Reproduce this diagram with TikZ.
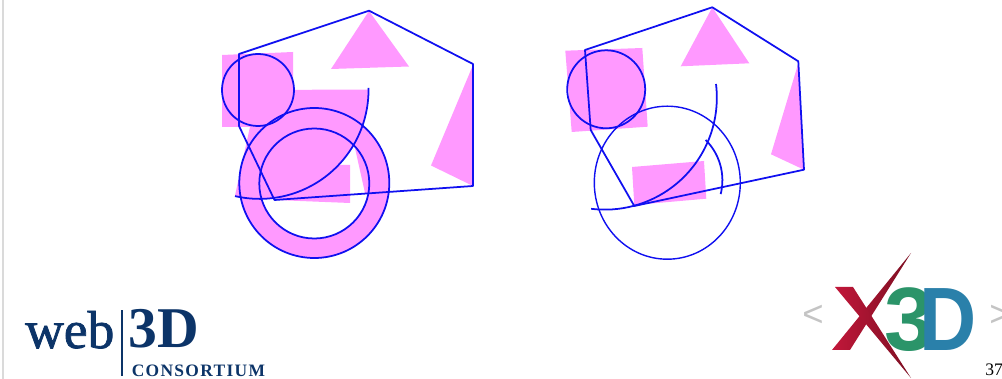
\documentclass[tikz,border=0pt]{standalone}
\usepackage{fontspec}
\setmainfont{Liberation Serif}
\newfontfamily\spacedfont[LetterSpace=7.5]{Liberation Serif}
\newfontfamily\webfont[FakeBold=1.4]{Liberation Serif}
\newfontfamily\logofont{Liberation Sans}
\definecolor{stroke}{HTML}{1010F0}
\definecolor{patch}{HTML}{FF99FF}
\definecolor{navy}{HTML}{0C3468}
\definecolor{edge}{HTML}{DADADA}
\definecolor{crimson}{HTML}{C2173A}
\definecolor{wine}{HTML}{7C0F22}
\definecolor{jade}{HTML}{2B9469}
\definecolor{ocean}{HTML}{2A80AA}
\definecolor{chevron}{HTML}{C4C4C4}
\begin{document}
\begin{tikzpicture}[
  x=0.025cm,y=-0.025cm,
  outline/.style={draw=stroke,line width=1.25pt,line join=round},
  fineline/.style={draw=stroke,line width=1pt,line join=round},
  patched/.style={fill=patch,draw=none},
  logotext/.style={inner sep=0pt,anchor=base west,text=navy},
  mark3d/.style={inner sep=0pt,anchor=base west,font=\logofont\bfseries\fontsize{64}{64}\selectfont},
  blade/.style={left color=crimson,right color=wine,draw=none}
]
\useasboundingbox (0,0) rectangle (1002,379);
\fill[edge] (2,0) rectangle (4,379);
% left figure
\fill[patched] (222,55) -- (293,52) -- (293,127) -- (222,127) -- cycle;
\fill[patched] (369,11) -- (409,66.5) -- (331,69) -- cycle;
\fill[patched] (473,65) -- (473,186) -- (431,165.5) -- cycle;
\fill[patched,even odd rule] (314.3,183) circle[radius=75] (314.3,183.5) circle[radius=55];
\fill[patched] (258,90) -- (368.5,89.5) arc[start angle=0,end angle=103,radius=109] -- cycle;
\fill[patched] (335,165) -- (350,165) -- (350,203) -- (275,200) -- cycle;
\begin{scope}
  \clip (354.3,145) -- (365,193) -- (375,192) -- (375,130) -- cycle;
  \fill[patched] (314.3,183.5) circle[radius=55];
\end{scope}
\draw[outline] (239,54) -- (369,10.7) -- (473,64) -- (473,186) -- (274.5,200) -- (239,126) -- cycle;
\draw[outline] (258,90) circle[radius=36];
\draw[outline] (314.3,183) circle[radius=75];
\draw[outline] (314.3,183.5) circle[radius=55];
\draw[outline] (368.5,88) arc[start angle=-1,end angle=103,radius=109];
% right figure
\fill[patched] (565.3,50.7) -- (642.3,48) -- (647.7,126.7) -- (571.7,132) -- cycle;
\fill[patched] (712.3,7.3) -- (749.3,63.3) -- (680.7,66.3) -- cycle;
\fill[patched] (798.3,63.3) -- (804,169.7) -- (771,154.3) -- cycle;
\fill[patched] (632,167) -- (704,161) -- (706.3,198.7) -- (634.3,205) -- cycle;
\draw[outline] (585,50) -- (712.3,7.3) -- (798.3,61.3) -- (804,169.7) -- (634.3,206) -- (590.7,130) -- cycle;
\draw[outline] (606.2,89.3) circle[radius=39];
\draw[fineline] (667.3,182.7) ellipse[x radius=73,y radius=76.5];
\draw[outline] (716,84) arc[start angle=-7,end angle=97,radius=112];
\draw[outline] (705.7,140) arc[start angle=-45,end angle=14,radius=57];
% consortium logo
\node[logotext,font=\webfont\fontsize{38}{38}\selectfont] (web) at (25,348) {web};
\node[logotext,font=\bfseries\fontsize{41}{41}\selectfont] (three) at (128,348) {3D};
\node[logotext,font=\spacedfont\bfseries\fontsize{12.4}{13}\selectfont] (consortium) at (131.5,377) {CONSORTIUM};
\fill[navy] (121,310) rectangle (122.5,376);
% x3d logo
\node[inner sep=0pt,text=chevron,font=\logofont\fontsize{26}{26}\selectfont] (less) at (813,316) {<};
\node[inner sep=0pt,text=chevron,font=\logofont\fontsize{26}{26}\selectfont] (more) at (1000,316) {>};
\shade[blade] (832,350) -- (850,350) -- (911,253) -- cycle;
\shade[blade] (835,287) -- (853,287) -- (911,378) -- cycle;
\node[mark3d,text=jade] (mark3) at (884,351) {3};
\node[mark3d,text=ocean,xscale=0.88] (markD) at (919,351) {D};
\node[inner sep=0pt,anchor=base west,font=\fontsize{12.5}{13}\selectfont] (page) at (985,376) {37};
\end{tikzpicture}
\end{document}
